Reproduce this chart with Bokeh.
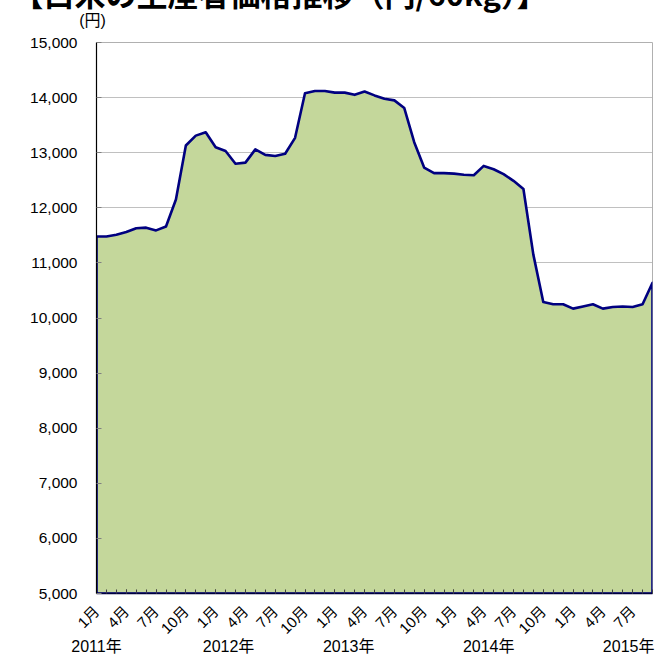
import math
from bokeh.plotting import figure
from bokeh.models import Label, FixedTicker, NumeralTickFormatter, LinearAxis
from bokeh.embed import file_html
from bokeh.resources import INLINE

# ---------------- data ----------------
title_text = "【白米の生産者価格推移（円/60kg）】"
unit_text = "(円)"

# monthly producer price of white rice (yen / 60kg), Jan 2011 - Sep 2015
prices_2011 = [11480, 11480, 11510, 11560, 11630, 11640, 11590, 11660, 12150, 13130, 13310, 13370]
prices_2012 = [13100, 13030, 12800, 12820, 13060, 12960, 12940, 12980, 13270, 14080, 14120, 14120]
prices_2013 = [14090, 14090, 14050, 14110, 14040, 13980, 13950, 13810, 13190, 12730, 12630, 12630]
prices_2014 = [12620, 12600, 12590, 12760, 12700, 12610, 12490, 12340, 11150, 10290, 10250, 10250]
prices_2015 = [10170, 10210, 10250, 10170, 10200, 10210, 10200, 10250, 10640]
prices = prices_2011 + prices_2012 + prices_2013 + prices_2014 + prices_2015

month_tick_labels = ["1月", "4月", "7月", "10月",
                     "1月", "4月", "7月", "10月",
                     "1月", "4月", "7月", "10月",
                     "1月", "4月", "7月", "10月",
                     "1月", "4月", "7月"]
year_labels = ["2011年", "2012年", "2013年", "2014年", "2015年"]
y_ticks = [5000, 6000, 7000, 8000, 9000, 10000, 11000, 12000, 13000, 14000, 15000]

# ---------------- layout ----------------
year_label_x = [0.0, 13.3, 25.4, 39.5, 53.6]
Y_MIN, Y_MAX = 5000, 15000
FRAME_W, FRAME_H = 556, 551

month_index = list(range(len(prices)))
major_ticks = month_index[::3]
last = month_index[-1]

# pixel -> data conversion for the texts placed outside the frame
px_per_x = FRAME_W / last
px_per_y = FRAME_H / (Y_MAX - Y_MIN)

LATIN = "Liberation Sans"
CJK = "Noto Sans CJK JP"
MIXED = f"'{LATIN}', '{CJK}'"

p = figure(frame_width=FRAME_W, frame_height=FRAME_H,
           x_range=(0, last), y_range=(Y_MIN, Y_MAX),
           min_border_left=96, min_border_right=8,
           min_border_top=0, min_border_bottom=62,
           output_backend="svg", toolbar_location=None,
           background_fill_color="white", border_fill_color="white")
p.title.visible = False
p.margin = (-20, 0, -10, 0)

p.outline_line_color = "#B0B0B0"
p.outline_line_width = 1

xs = month_index + [last, 0]
ys = prices + [Y_MIN, Y_MIN]
p.patch(xs, ys, fill_color="#C4D79B", line_color="#000080",
        line_width=2.6, line_join="round")

# grid
p.xgrid.visible = False
p.ygrid.ticker = FixedTicker(ticks=y_ticks)
p.ygrid.grid_line_color = "#808080"
p.ygrid.grid_line_dash = "1 1"
p.ygrid.grid_line_width = 1

# y axis
p.yaxis.ticker = FixedTicker(ticks=y_ticks)
p.yaxis.formatter = NumeralTickFormatter(format="0,0")
p.yaxis.axis_line_color = "black"
p.yaxis.axis_line_width = 1.2
p.yaxis.major_tick_in = 5
p.yaxis.major_tick_out = 0
p.yaxis.major_tick_line_color = "#808080"
p.yaxis.minor_tick_line_color = None
p.yaxis.major_label_standoff = 19
p.yaxis.major_label_text_font = LATIN
p.yaxis.major_label_text_font_size = "15.5px"
p.yaxis.major_label_text_color = "black"

# x axis (months)
p.xaxis.ticker = FixedTicker(ticks=major_ticks, minor_ticks=month_index)
p.xaxis.major_label_overrides = {t: lbl for t, lbl in zip(major_ticks, month_tick_labels)}
p.xaxis.major_label_orientation = math.pi / 4
p.xaxis.major_label_text_font = MIXED
p.xaxis.major_label_text_font_size = "15px"
p.xaxis.major_label_text_color = "black"
p.xaxis.major_label_standoff = 15
p.xaxis.axis_line_color = "#000040"
p.xaxis.axis_line_width = 1.5
p.xaxis.major_tick_in = 4
p.xaxis.major_tick_out = 0
p.xaxis.minor_tick_in = 4
p.xaxis.minor_tick_out = 0
p.xaxis.major_tick_line_color = "#404040"
p.xaxis.minor_tick_line_color = "#404040"

# second x axis below: year labels
year_axis = LinearAxis(ticker=FixedTicker(ticks=year_label_x),
                       major_label_overrides={xv: t for xv, t in zip(year_label_x, year_labels)},
                       axis_line_color=None, major_tick_line_color=None,
                       minor_tick_line_color=None,
                       major_label_standoff=-14,
                       major_label_text_font=MIXED,
                       major_label_text_font_size="16px",
                       major_label_text_color="black")
p.add_layout(year_axis, "below")

# texts above the frame, placed in side panels (so they are not clipped),
# positioned through the data scales: offsets in px from the frame's top-left corner
title_dx, title_dy = -84, 50      # title centre 50px above the frame top (cut by the page edge)
unit_dx, unit_dy = -4, 22         # unit label position above the frame top

title_label = Label(x=title_dx / px_per_x, y=Y_MAX + title_dy / px_per_y,
                    x_units="data", y_units="data", text=title_text,
                    text_font=CJK, text_font_size="31px", text_font_style="bold",
                    text_align="left", text_baseline="middle", text_color="black")
p.add_layout(title_label, "above")

unit_label = Label(x=unit_dx / px_per_x, y=Y_MAX + unit_dy / px_per_y,
                   x_units="data", y_units="data", text=unit_text,
                   text_font=MIXED, text_font_size="16px",
                   text_align="center", text_baseline="middle", text_color="black")
p.add_layout(unit_label, "above")

open("out.html", "w").write(file_html(p, INLINE))
